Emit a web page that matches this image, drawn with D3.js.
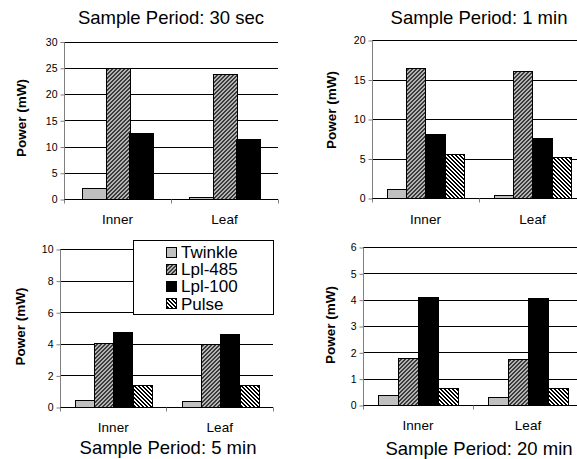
<!DOCTYPE html>
<html>
<head>
<meta charset="utf-8">
<script src="https://cdn.jsdelivr.net/npm/d3@7"></script>
<style>
  body { margin: 0; background: #fff; }
  svg, svg text { font-family: Arial, "Liberation Sans", Helvetica, sans-serif; }
</style>
</head>
<body>
<svg id="chart" width="577" height="459"></svg>
<script>
const categories = ['Inner', 'Leaf'];
const series = ['Twinkle', 'Lpl-485', 'Lpl-100', 'Pulse'];

// values per category, in series order
const power30sec = [[2.1, 25.1, 12.7], [0.5, 23.9, 11.6]];
const power1min = [[1.2, 16.5, 8.2, 5.6], [0.5, 16.1, 7.6, 5.3]];
const power5min = [[0.5, 4.1, 4.78, 1.45], [0.4, 4.0, 4.65, 1.4]];
const power20min = [[0.38, 1.8, 4.13, 0.66], [0.33, 1.75, 4.1, 0.65]];

const titles = ['Sample Period: 30 sec', 'Sample Period: 1 min', 'Sample Period: 5 min', 'Sample Period: 20 min'];
const yMax = [30, 20, 10, 6];
const yStep = [5, 5, 2, 1];

const panels = [
  {data: power30sec, left: 64, right: 278, top: 42, bottom: 199.5, titleX: 171, titleY: 24, catY: 224, labX: 21.5, labY: 118},
  {data: power1min, left: 372, right: 586, top: 40.5, bottom: 198.5, titleX: 479, titleY: 24, catY: 224, labX: 331.5, labY: 110},
  {data: power5min, left: 60, right: 273, top: 249.5, bottom: 407.5, titleX: 168, titleY: 454, catY: 431.5, labX: 20, labY: 326.5},
  {data: power20min, left: 363, right: 583, top: 247.5, bottom: 405.5, titleX: 479, titleY: 455, catY: 430, labX: 330, labY: 325}
];

const svg = d3.select('#chart');
const defs = svg.append('defs');

// pixel hatch tiles, 4px period
function pixelPattern(id, bg, fg, isDark) {
  const pat = defs.append('pattern')
    .attr('id', id)
    .attr('patternUnits', 'userSpaceOnUse')
    .attr('width', 4).attr('height', 4);
  pat.append('rect').attr('width', 4).attr('height', 4).attr('fill', bg);
  for (let py = 0; py < 4; py++) {
    for (let px = 0; px < 4; px++) {
      if (isDark(px, py)) {
        pat.append('rect').attr('x', px).attr('y', py).attr('width', 1).attr('height', 1)
          .attr('fill', fg).attr('shape-rendering', 'crispEdges');
      }
    }
  }
}
// Lpl-485: dark "/" stripes on grey
pixelPattern('hatch485', '#b4b4b4', '#3a3a3a', (x, y) => (x + y) % 4 < 2);
// Pulse: black "\" stripes on white
pixelPattern('hatchPulse', '#fff', '#000', (x, y) => (x - y + 8) % 4 < 2);

const fills = {
  'Twinkle': '#c0c0c0',
  'Lpl-485': 'url(#hatch485)',
  'Lpl-100': '#000',
  'Pulse': 'url(#hatchPulse)'
};

const crisp = v => Math.round(v - 0.5) + 0.5;
const fontFamily = 'Arial, "Liberation Sans", Helvetica, sans-serif';

panels.forEach((p, i) => {
  const g = svg.append('g');
  const keys = series.slice(0, p.data[0].length);

  let y = d3.scaleLinear().domain([0, yMax[i]]).range([p.bottom, p.top]);
  let x0 = d3.scaleBand().domain(categories).range([p.left, p.right]).padding(0);
  let x1 = d3.scaleBand().domain(keys).range([0, x0.bandwidth()]).paddingInner(0).paddingOuter(0.75);

  // gridlines
  const ticks = d3.range(yStep[i], yMax[i] + 0.001, yStep[i]);
  g.selectAll('.grid').data(ticks).enter().append('line')
    .attr('x1', p.left).attr('x2', p.right)
    .attr('y1', d => crisp(y(d))).attr('y2', d => crisp(y(d)))
    .attr('stroke', '#000').attr('stroke-width', 1);

  // bars
  const groups = g.selectAll('.cat').data(p.data).enter().append('g')
    .attr('transform', (d, j) => 'translate(' + Math.round(x0(categories[j])) + ',0)');
  groups.selectAll('rect')
    .data(d => d.map((v, k) => ({key: keys[k], value: v})))
    .enter().append('rect')
    .attr('x', d => Math.round(x1(d.key)) + 0.5)
    .attr('y', d => Math.round(y(d.value)) + 0.5)
    .attr('width', d => Math.round(x1.bandwidth()))
    .attr('height', d => Math.max(0, crisp(p.bottom) - Math.round(y(d.value)) - 0.5))
    .attr('fill', d => fills[d.key])
    .attr('stroke', '#000').attr('stroke-width', 1);

  // y axis
  const yAxis = d3.axisLeft(y)
    .tickValues(d3.range(0, yMax[i] + 0.001, yStep[i]))
    .tickFormat(d3.format('d'))
    .tickSize(4).tickPadding(3);
  const ya = g.append('g').attr('transform', 'translate(' + crisp(p.left) + ',0)').call(yAxis);
  ya.attr('font-family', fontFamily);
  ya.select('.domain').attr('stroke', '#808080').attr('d', 'M0,' + crisp(p.top) + 'V' + crisp(p.bottom));
  ya.selectAll('.tick line').attr('stroke', '#808080');
  ya.selectAll('.tick text').attr('font-size', '10.5px').attr('fill', '#000');

  // x axis with boundary ticks
  const yb = crisp(p.bottom);
  g.append('line').attr('x1', p.left).attr('x2', p.right).attr('y1', yb).attr('y2', yb).attr('stroke', '#000');
  const bounds = [p.left, x0('Leaf'), p.right];
  g.selectAll('.xt').data(bounds).enter().append('line')
    .attr('x1', d => crisp(d)).attr('x2', d => crisp(d))
    .attr('y1', yb).attr('y2', yb + 4)
    .attr('stroke', '#808080');

  g.selectAll('.catlab').data(categories).enter().append('text')
    .attr('x', d => x0(d) + x0.bandwidth() / 2)
    .attr('y', p.catY)
    .attr('text-anchor', 'middle')
    .attr('font-size', '13.5px')
    .text(d => d);

  g.append('text')
    .attr('x', p.titleX).attr('y', p.titleY)
    .attr('text-anchor', 'middle')
    .attr('font-size', '18.5px')
    .text(titles[i]);

  g.append('text')
    .attr('transform', 'translate(' + p.labX + ',' + p.labY + ')rotate(-90)')
    .attr('text-anchor', 'middle')
    .attr('dy', '0.35em')
    .attr('font-size', '13.5px')
    .attr('font-weight', 'bold')
    .text('Power (mW)');
});

// legend in the 5 min panel
const legend = svg.append('g');
legend.append('rect')
  .attr('x', 133.5).attr('y', 240.5).attr('width', 140).attr('height', 74)
  .attr('fill', '#fff').attr('stroke', '#000');
const rowY = d3.scalePoint().domain(series).range([252, 303.5]);
series.forEach(s => {
  legend.append('rect')
    .attr('x', 166.5).attr('y', Math.round(rowY(s) - 5.5) + 0.5)
    .attr('width', 10).attr('height', 10)
    .attr('fill', fills[s]).attr('stroke', '#000');
  legend.append('text')
    .attr('x', 181).attr('y', rowY(s))
    .attr('dy', '0.36em')
    .attr('font-size', '17px')
    .text(s);
});
</script>
</body>
</html>
